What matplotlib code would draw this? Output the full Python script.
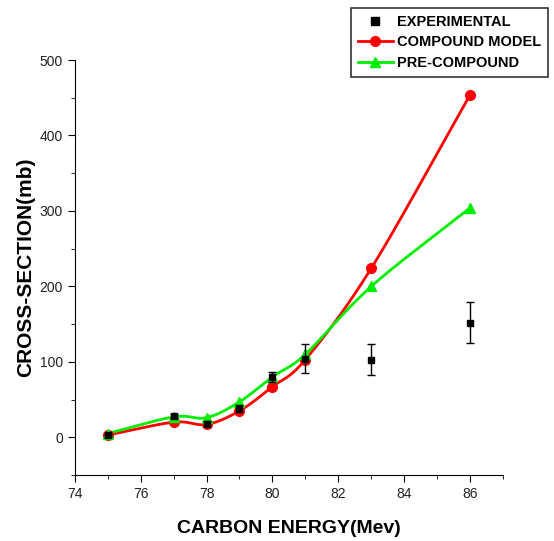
import matplotlib.pyplot as plt
import numpy as np
from matplotlib.ticker import MultipleLocator

plt.rcParams['font.family'] = ['Liberation Sans', 'DejaVu Sans']

energy = [75, 77, 78, 79, 80, 81, 83, 86]
exp_val = [3, 28, 18, 38, 80, 104, 103, 152]
exp_err = [2, 3, 3, 5, 7, 19, 20, 27]
compound = [3, 20, 17, 35, 67, 103, 224, 454]
precompound = [5, 27, 26, 47, 80, 110, 200, 304]


def smooth(x, y, n=30):
    # catmull-rom through the points, only for drawing the line
    x = np.asarray(x, float)
    y = np.asarray(y, float)
    px = np.concatenate([[2 * x[0] - x[1]], x, [2 * x[-1] - x[-2]]])
    py = np.concatenate([[2 * y[0] - y[1]], y, [2 * y[-1] - y[-2]]])
    xs, ys = [], []
    for i in range(1, len(px) - 2):
        t = np.linspace(0, 1, n)
        for p, out in ((px, xs), (py, ys)):
            p0, p1, p2, p3 = p[i - 1], p[i], p[i + 1], p[i + 2]
            out.extend(0.5 * (2 * p1 + (-p0 + p2) * t
                              + (2 * p0 - 5 * p1 + 4 * p2 - p3) * t ** 2
                              + (-p0 + 3 * p1 - 3 * p2 + p3) * t ** 3))
    return xs, ys


fig = plt.figure(figsize=(5.54, 5.41), dpi=100)
ax = fig.add_axes([0.135, 0.122, 0.773, 0.767])

sx, sy = smooth(energy, compound)
ax.plot(sx, sy, color='#ff0000', lw=2, zorder=2)
ax.plot(energy, compound, 'o', color='#ff0000', ms=7, zorder=3)
sx, sy = smooth(energy, precompound)
ax.plot(sx, sy, color='#00ee00', lw=2, zorder=2)
ax.plot(energy, precompound, '^', color='#00ee00', ms=7, zorder=3)
ax.errorbar(energy, exp_val, yerr=exp_err, fmt='s', color='black', ms=5,
            capsize=3, elinewidth=1, zorder=4)

h1 = ax.plot([], [], 's', color='black', ms=6)[0]
h2 = ax.plot([], [], '-o', color='#ff0000', lw=2, ms=7)[0]
h3 = ax.plot([], [], '-^', color='#00ee00', lw=2, ms=7)[0]
leg = fig.legend([h1, h2, h3], ['EXPERIMENTAL', 'COMPOUND MODEL', 'PRE-COMPOUND'],
                 loc='upper right', bbox_to_anchor=(1.002, 0.998),
                 prop={'weight': 'bold', 'size': 10.5}, fancybox=False,
                 edgecolor='black', handlelength=2.4, borderpad=0.45,
                 labelspacing=0.45, handletextpad=0.3)
leg.get_frame().set_linewidth(1.2)

ax.set_xlim(74, 87)
ax.set_ylim(-50, 500)
ax.xaxis.set_major_locator(MultipleLocator(2))
ax.xaxis.set_minor_locator(MultipleLocator(1))
ax.yaxis.set_major_locator(MultipleLocator(100))
ax.yaxis.set_minor_locator(MultipleLocator(50))
ax.tick_params(which='both', direction='out', labelsize=10, labelcolor='#222222')
ax.tick_params(which='major', length=5)
ax.tick_params(which='minor', length=3)
ax.spines['top'].set_visible(False)
ax.spines['right'].set_visible(False)

ax.set_xlabel('CARBON ENERGY(Mev)', fontsize=14, fontweight='bold', labelpad=14)
ax.set_ylabel('CROSS-SECTION(mb)', fontsize=15, fontweight='bold', labelpad=3)

fig.savefig('out.png', dpi=100)
